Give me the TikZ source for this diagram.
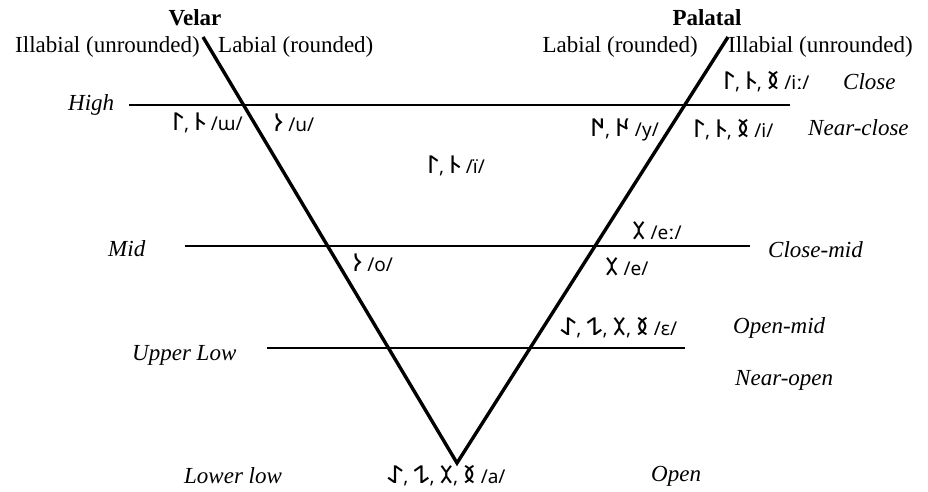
\documentclass[tikz,border=0pt]{standalone}
\usepackage{fontspec}
\setmainfont{Liberation Serif}
\newfontfamily\ipafont{Noto Sans}
\IfFontExistsTF{Noto Sans Old Turkic}
  {\newfontfamily\otfont[Scale=1.3]{Noto Sans Old Turkic}}
  {\newfontfamily\otfont{Noto Sans}}
\usetikzlibrary{positioning}
\tikzset{
  hdr/.style ={font=\fontsize{23}{26}\selectfont\bfseries,inner sep=0pt},
  side/.style={font=\fontsize{23}{26}\selectfont,inner sep=0pt},
  lvl/.style ={font=\fontsize{23}{26}\selectfont\itshape,inner sep=0pt,anchor=west},
  vow/.style ={font=\fontsize{19}{22}\selectfont\ipafont,inner sep=0pt,anchor=west},
  arm/.style ={line width=3.4pt},
  rule/.style={line width=1.5pt},
}
\newcommand{\ot}[1]{{\otfont #1}}
\begin{document}
\begin{tikzpicture}[x=1pt,y=-1pt]
\useasboundingbox (0,0) rectangle (928,492);
% the V
\coordinate (vtop) at (203,37);
\coordinate (ptop) at (728,37);
\coordinate (apex) at (457,463);
\draw[arm] (vtop) -- (apex) -- (ptop);
% height rules
\coordinate (hi1) at (129,105); \coordinate (hi2) at (790,105);
\coordinate (mi1) at (185,246); \coordinate (mi2) at (750,246);
\coordinate (ul1) at (267,348); \coordinate (ul2) at (685,348);
\draw[rule] (hi1) -- (hi2);
\draw[rule] (mi1) -- (mi2);
\draw[rule] (ul1) -- (ul2);
% headings
\node[hdr] (velar) at (195,18) {Velar};
\node[hdr] (palatal) at (707,18) {Palatal};
\node[side,anchor=east] (vill) at (200,47) {Illabial (unrounded)};
\node[side,anchor=west] (vlab) at (218,47) {Labial (rounded)};
\node[side,anchor=east] (plab) at (698,47) {Labial (rounded)};
\node[side,anchor=west] (pill) at (728,47) {Illabial (unrounded)};
% heights, left
\node[lvl] (high) at (68,105) {High};
\node[lvl] (mid) at (108,249) {Mid};
\node[lvl] (uplow) at (132,355) {Upper Low};
\node[lvl] (lowlow) at (184,476) {Lower low};
% heights, right
\node[lvl] (close) at (843,82) {Close};
\node[lvl] (nclose) at (808,128) {Near-close};
\node[lvl] (cmid) at (768,250) {Close-mid};
\node[lvl] (omid) at (733,328) {Open-mid};
\node[lvl] (nopen) at (735,380) {Near-open};
\node[lvl] (open) at (651,476) {Open};
% vowels
\node[vow] (vii) at (723,82) {\ot{𐰃}, \ot{𐰄}, \ot{𐰅} /iː/};
\node[vow] (vw) at (172,123) {\ot{𐰃}, \ot{𐰄} /ɯ/};
\node[vow] (vu) at (273,123) {\ot{𐰆} /u/};
\node[vow] (vy) at (590,130) {\ot{𐰇}, \ot{𐰈} /y/};
\node[vow] (vi) at (693,130) {\ot{𐰃}, \ot{𐰄}, \ot{𐰅} /i/};
\node[vow] (vib) at (427,166) {\ot{𐰃}, \ot{𐰄} /ï/};
\node[vow] (vee) at (632,231) {\ot{𐰂} /eː/};
\node[vow] (vo) at (352,263) {\ot{𐰆} /o/};
\node[vow] (ve) at (605,267) {\ot{𐰂} /e/};
\node[vow] (veps) at (560,328) {\ot{𐰀}, \ot{𐰁}, \ot{𐰂}, \ot{𐰅} /ɛ/};
\node[vow] (va) at (387,476) {\ot{𐰀}, \ot{𐰁}, \ot{𐰂}, \ot{𐰅} /a/};
\end{tikzpicture}
\end{document}
